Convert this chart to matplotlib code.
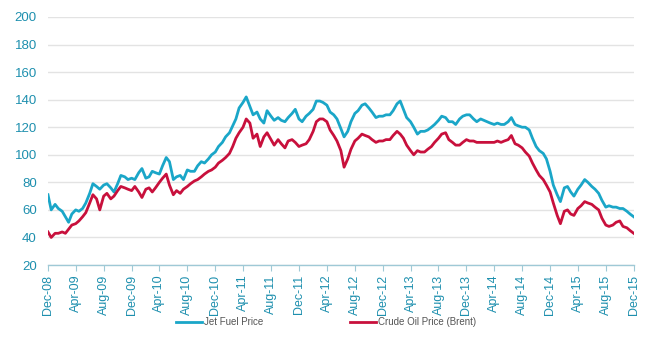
import matplotlib
matplotlib.use("Agg")
import matplotlib.pyplot as plt
import pandas as pd
import numpy as np

plt.rcParams['font.family'] = ['Liberation Sans', 'DejaVu Sans']

# semi-monthly samples, Dec-2008 .. Dec-2015
dates = pd.date_range("2008-12-01", "2015-12-01", freq="SMS")

jet_fuel = [
    71, 60, 64, 61, 59, 55, 51, 57, 60, 59, 61, 65, 72, 79, 77, 75, 78, 79, 76, 73,
    79, 85, 84, 82, 83, 82, 87, 90, 83, 84, 88, 87, 86, 92, 98, 95, 82, 84, 85, 82,
    89, 88, 88, 92, 95, 94, 97, 100, 102, 106, 109, 113, 116, 121, 126, 134, 138, 142, 135, 129,
    131, 126, 123, 132, 128, 125, 127, 125, 124, 127, 130, 133, 126, 124, 128, 130, 133, 139, 139, 138,
    136, 131, 129, 126, 119, 113, 117, 124, 130, 132, 136, 137, 134, 131, 127, 128, 128, 129, 129, 132,
    137, 139, 133, 127, 124, 120, 115, 117, 117, 118, 120, 122, 125, 128, 127, 124, 124, 122, 126, 128,
    129, 129, 126, 124, 126, 125, 124, 123, 122, 123, 122, 122, 124, 127, 122, 121, 120, 120, 118, 112,
    106, 103, 101, 97, 88, 78, 71, 66, 76, 77, 73, 70, 75, 78, 82, 80, 77, 75, 72, 67,
    62, 63, 62, 62, 61, 61, 59, 57, 55,
]

crude_brent = [
    44, 40, 43, 43, 44, 43, 46, 49, 50, 52, 55, 58, 65, 71, 68, 60, 70, 72, 68, 70,
    74, 77, 76, 75, 74, 77, 73, 69, 75, 76, 73, 76, 80, 83, 86, 78, 71, 74, 72, 75,
    77, 79, 81, 82, 84, 86, 88, 89, 91, 94, 96, 98, 101, 106, 112, 116, 120, 126, 123, 112,
    115, 106, 113, 116, 111, 107, 111, 108, 105, 110, 111, 109, 106, 107, 108, 111, 117, 124, 126, 126,
    124, 118, 114, 110, 103, 91, 97, 104, 110, 112, 115, 114, 113, 111, 109, 110, 110, 111, 111, 114,
    117, 115, 112, 107, 103, 100, 103, 102, 102, 104, 106, 109, 112, 115, 116, 111, 109, 107, 107, 109,
    111, 110, 110, 109, 109, 109, 109, 109, 109, 110, 109, 110, 111, 114, 108, 107, 105, 102, 99, 94,
    89, 85, 82, 78, 73, 65, 56, 50, 59, 60, 57, 56, 61, 63, 66, 65, 64, 62, 60, 54,
    49, 48, 49, 51, 52, 48, 47, 45, 43,
]

tick_dates = pd.date_range("2008-12-01", "2015-12-01", freq="4MS")
tick_labels = [d.strftime("%b-%y") for d in tick_dates]
y_ticks = [20, 40, 60, 80, 100, 120, 140, 160, 180, 200]

jet_color = "#1aa6c8"
crude_color = "#c8103c"
label_color = "#1d8fae"

fig = plt.figure(figsize=(6.52, 3.54), dpi=100)
ax = fig.add_axes([0.0736, 0.2514, 0.8984, 0.7006])

ax.plot(dates, jet_fuel, color=jet_color, lw=2.0, label="Jet Fuel Price", solid_joinstyle="round")
ax.plot(dates, crude_brent, color=crude_color, lw=2.0, label="Crude Oil Price (Brent)", solid_joinstyle="round")

ax.set_ylim(20, 200)
ax.set_yticks(y_ticks)
ax.set_xlim(tick_dates[0], tick_dates[-1])
ax.set_xticks(tick_dates)
ax.set_xticklabels(tick_labels, rotation=90, fontsize=9, color=label_color)
ax.tick_params(axis="y", length=0, labelsize=9.5, labelcolor=label_color, pad=8)
ax.tick_params(axis="x", length=4, width=0.8, color="#9fc9d6", pad=3)

ax.grid(axis="y", color="#e3e3e3", lw=1.0)
ax.set_axisbelow(True)
for s in ["top", "right", "left"]:
    ax.spines[s].set_visible(False)
ax.spines["bottom"].set_color("#9fc9d6")
ax.spines["bottom"].set_linewidth(1.0)

leg = fig.legend(loc="center", bbox_to_anchor=(0.5, 0.09), ncol=2, frameon=False,
                 fontsize=7, handlelength=2.6, columnspacing=9, handletextpad=0.2)
for t in leg.get_texts():
    t.set_color("#555555")

fig.savefig("out.png", dpi=100, facecolor="white")
